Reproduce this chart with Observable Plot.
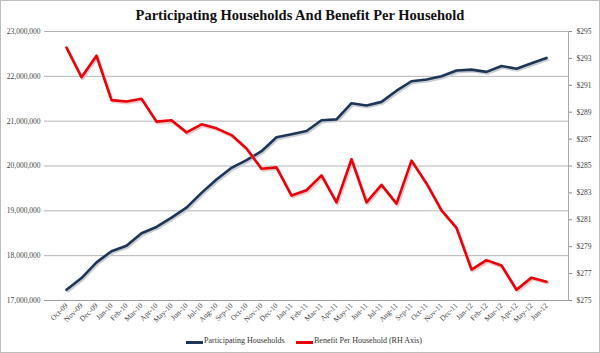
<!DOCTYPE html>
<html>
<head>
<meta charset="utf-8">
<script src="https://cdn.jsdelivr.net/npm/d3@7"></script>
<script src="https://cdn.jsdelivr.net/npm/@observablehq/plot@0.6"></script>
<style>
  html, body { margin: 0; padding: 0; background: #fff; }
  #wrap { position: relative; width: 600px; height: 353px; overflow: hidden; background: #fff; font-family: "Liberation Serif", "DejaVu Serif", serif; }
  #border { position: absolute; left: 0; top: 0; width: 600px; height: 353px; box-sizing: border-box; border: 1px solid #bdbdbd; pointer-events: none; }
  #title { position: absolute; left: 0; top: 0; width: 600px; height: 28px; line-height: 30px; text-align: center; font-weight: bold; font-size: 14.5px; color: #111; }
  #chart { position: absolute; left: 0; top: 28px; }
  #legend { position: absolute; left: 0; top: 335px; width: 600px; height: 14px; font-size: 8px; color: #333; }
  .sw { position: absolute; top: 6px; width: 17px; height: 3px; }
  .lt { position: absolute; top: 1px; white-space: nowrap; }
</style>
</head>
<body>
<div id="wrap">
  <div id="title">Participating Households And Benefit Per Household</div>
  <div id="chart"></div>
  <div id="legend">
    <div class="sw" style="left:186px;background:#1f3555;"></div>
    <div class="lt" style="left:204px;">Participating Households</div>
    <div class="sw" style="left:296px;background:#e8000b;"></div>
    <div class="lt" style="left:314px;">Benefit Per Household (RH Axis)</div>
  </div>
  <div id="border"></div>
</div>
<script>
const months = ["Oct-09","Nov-09","Dec-09","Jan-10","Feb-10","Mar-10","Apr-10","May-10","Jun-10","Jul-10","Aug-10","Sep-10","Oct-10","Nov-10","Dec-10","Jan-11","Feb-11","Mar-11","Apr-11","May-11","Jun-11","Jul-11","Aug-11","Sep-11","Oct-11","Nov-11","Dec-11","Jan-12","Feb-12","Mar-12","Apr-12","May-12","Jun-12"];
const households = [17240000,17500000,17850000,18100000,18220000,18500000,18640000,18850000,19070000,19400000,19700000,19960000,20130000,20330000,20640000,20710000,20780000,21020000,21040000,21400000,21350000,21430000,21680000,21890000,21930000,22000000,22130000,22150000,22100000,22230000,22170000,22290000,22410000];
const benefit = [293.8,291.6,293.2,289.9,289.8,290.0,288.3,288.4,287.5,288.1,287.8,287.3,286.3,284.8,284.9,282.8,283.2,284.3,282.3,285.5,282.3,283.6,282.2,285.4,283.7,281.7,280.4,277.3,278.0,277.6,275.8,276.7,276.4];
const leftTicks = [17000000,18000000,19000000,20000000,21000000,22000000,23000000];
const rightTicks = [275,277,279,281,283,285,287,289,291,293,295];

// map right-axis dollars onto the left scale
const L0 = 17000000, L1 = 23000000, R0 = 275, R1 = 295;
const toLeft = v => L0 + (v - R0) * (L1 - L0) / (R1 - R0);
const toRight = y => R0 + (y - L0) * (R1 - R0) / (L1 - L0);

const hh = months.map((m, i) => ({month: m, value: households[i]}));
const bf = months.map((m, i) => ({month: m, value: toLeft(benefit[i])}));

const fmt = d3.format(",");

const chart = Plot.plot({
  width: 600,
  height: 308,
  marginTop: 3,
  marginBottom: 36,
  marginLeft: 44,
  marginRight: 32,
  style: {fontFamily: "'Liberation Serif', 'DejaVu Serif', serif", fontSize: "7.5px", color: "#444", background: "transparent"},
  x: {type: "point", domain: months, padding: 0.5, label: null},
  y: {domain: [L0, L1], label: null},
  marks: [
    Plot.gridY(leftTicks, {stroke: "#b4b4b4", strokeOpacity: 1, strokeWidth: 1}),
    Plot.ruleY([L0], {stroke: "#a0a0a0", strokeWidth: 1}),
    Plot.frame({anchor: "right", stroke: "#a8a8a8"}),
    Plot.axisY(leftTicks, {anchor: "left", tickSize: 0, tickPadding: 4, tickFormat: fmt, label: null}),
    Plot.axisY(rightTicks.map(toLeft), {anchor: "right", tickSize: 3, tickPadding: 5, stroke: "#888", tickFormat: d => "$" + Math.round(toRight(d)), label: null}),
    Plot.axisX(months, {tickRotate: -45, tickSize: 0, tickPadding: 4, label: null}),
    Plot.lineY(hh, {x: "month", y: "value", stroke: "#c9ced6", strokeWidth: 3, dx: 1.2, dy: 1.5}),
    Plot.lineY(hh, {x: "month", y: "value", stroke: "#1f3555", strokeWidth: 2.6}),
    Plot.lineY(bf, {x: "month", y: "value", stroke: "#f0c6c6", strokeWidth: 3, dx: 1.2, dy: 1.5}),
    Plot.lineY(bf, {x: "month", y: "value", stroke: "#e8000b", strokeWidth: 2.6})
  ]
});
document.getElementById("chart").appendChild(chart);
</script>
</body>
</html>
